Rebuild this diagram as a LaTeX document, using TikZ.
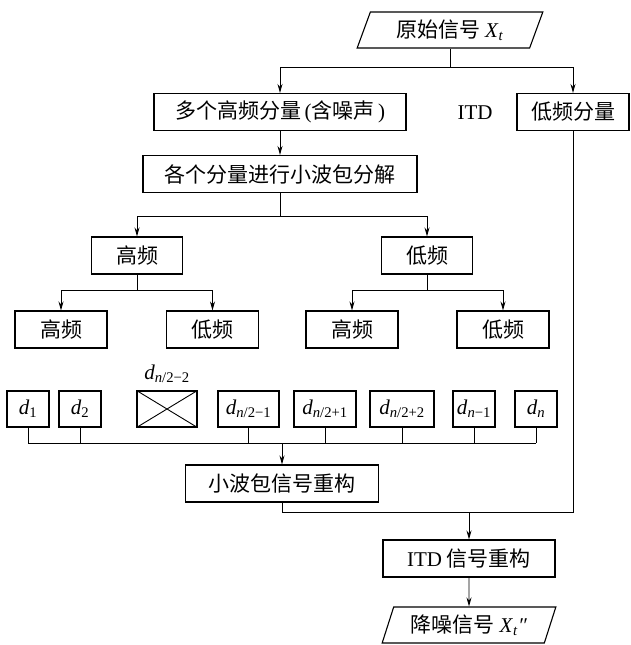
\documentclass[tikz,border=0pt]{standalone}
\usepackage{fontspec}
\setmainfont{Liberation Serif}
\newfontfamily\cjk{Noto Sans CJK SC}
\usetikzlibrary{arrows.meta}
\usetikzlibrary{shapes.geometric}
\newcommand{\dsub}[1]{\textit{d}\textsubscript{#1}}
\newcommand{\xsig}{\textrm{\textit{X}\textsubscript{\textit{t}}}}

\begin{document}
\begin{tikzpicture}[x=1pt, y=-1pt,
    box/.style={draw, line width=1.1pt, minimum height=37pt, inner sep=0pt, font=\cjk\fontsize{21}{21}\selectfont},
    io/.style={box, trapezium, trapezium left angle=67, trapezium right angle=113, trapezium stretches=true, minimum height=36pt},
    dbox/.style={draw, line width=1.1pt, minimum height=36pt, inner sep=0pt, font=\fontsize{21}{21}\selectfont},
    flow/.style={line width=0.9pt, -{Stealth[length=9pt, width=5pt]}},
    wire/.style={line width=0.9pt}]
    \useasboundingbox (0,0) rectangle (630,645);

    \node[io, minimum width=186pt] (src) at (450,30) {原始信号 \xsig};
    \node[box, minimum width=252pt] (hf) at (280,112) {多个高频分量\,\textrm{(}含噪声\,\textrm{)}};
    \node[box, minimum width=112pt] (lf) at (573,112) {低频分量};
    \node[font=\fontsize{21}{21}\selectfont] (itdlab) at (475,113) {ITD};
    \node[box, minimum width=274pt] (dec) at (280,174) {各个分量进行小波包分解};

    \node[box, minimum width=91pt] (h1) at (137,255.5) {高频};
    \node[box, minimum width=91pt] (l1) at (427,255.5) {低频};
    \node[box, minimum width=92pt] (hh) at (61,329.5) {高频};
    \node[box, minimum width=92pt] (hl) at (212.5,329.5) {低频};
    \node[box, minimum width=92pt] (lh) at (352,329.5) {高频};
    \node[box, minimum width=92pt] (ll) at (503,329.5) {低频};

    \node[dbox, minimum width=42pt] (d1) at (28,409) {\dsub{1}};
    \node[dbox, minimum width=42pt] (d2) at (80,409) {\dsub{2}};
    \node[dbox, minimum width=60pt] (dx) at (167,409) {};
    \node[font=\fontsize{21}{21}\selectfont] (dxlab) at (167,374) {\dsub{\textit{n}/2−2}};
    \node[dbox, minimum width=61pt] (da) at (248.5,409) {\dsub{\textit{n}/2−1}};
    \node[dbox, minimum width=62pt] (db) at (325,409) {\dsub{\textit{n}/2+1}};
    \node[dbox, minimum width=64pt] (dc) at (402,409) {\dsub{\textit{n}/2+2}};
    \node[dbox, minimum width=42pt] (dm) at (474,409) {\dsub{\textit{n}−1}};
    \node[dbox, minimum width=42pt] (dn) at (536,409) {\dsub{\textit{n}}};
    \draw[line width=0.9pt] (dx.north west) -- (dx.south east) (dx.north east) -- (dx.south west);

    \node[box, minimum width=193pt] (rec) at (282,483.5) {小波包信号重构};
    \node[box, minimum width=172pt] (itd) at (469,558.5) {\textrm{ITD} 信号重构};
    \node[io, minimum width=174pt] (out) at (469,625) {降噪信号 \xsig\textrm{\textit{″}}};

    % ITD split
    \draw[wire] (src.south) -- ++(0,19) coordinate (j1);
    \draw[flow] (j1) -| (hf.north);
    \draw[flow] (j1) -| (lf.north);
    \draw[flow] (hf) -- (dec);

    % wavelet packet tree
    \draw[wire] (dec.south) -- ++(0,23) coordinate (j2);
    \draw[flow] (j2) -| (h1.north);
    \draw[flow] (j2) -| (l1.north);
    \draw[wire] (h1.south) -- ++(0,16) coordinate (j3);
    \draw[flow] (j3) -| (hh.north);
    \draw[flow] (j3) -| (hl.north);
    \draw[wire] (l1.south) -- ++(0,16) coordinate (j4);
    \draw[flow] (j4) -| (lh.north);
    \draw[flow] (j4) -| (ll.north);

    % reconstruction
    \coordinate (bus) at (282,443);
    \foreach \d in {d1,d2,da,db,dc,dm,dn}
        \draw[wire] (\d.south) -- (\d.south |- bus);
    \draw[wire] (d1.south |- bus) -- (dn.south |- bus);
    \draw[flow] (bus) -- (rec.north);
    \draw[wire] (rec.south) -- ++(0,10) coordinate (j5) -- (lf.south |- j5) -- (lf.south);
    \draw[flow] (itd.north |- j5) -- (itd.north);
    \draw[flow] (itd) -- (out);
\end{tikzpicture}
\end{document}
